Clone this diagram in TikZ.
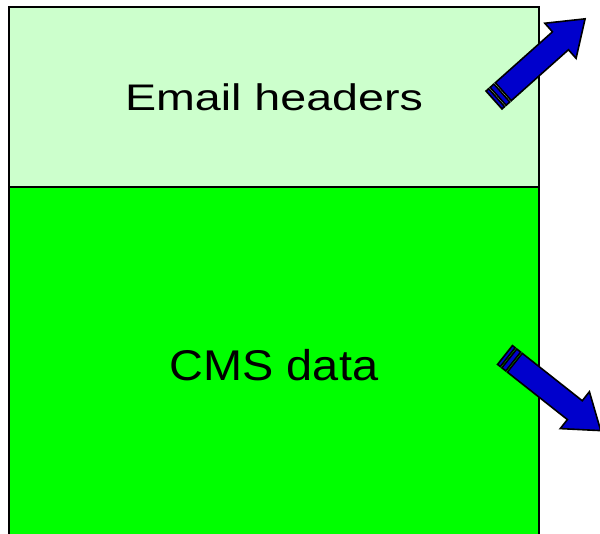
\documentclass[tikz,border=0pt]{standalone}
\usepackage{fontspec}
\setmainfont{Liberation Sans}
\usepackage{tikz}
\usetikzlibrary{calc}
\definecolor{paleGreen}{RGB}{204,255,204}
\definecolor{brightGreen}{RGB}{0,255,0}
\definecolor{arrowBlue}{RGB}{0,0,204}
\newcommand\stripedArrow[2]{
    \def\L{122}
    \def\w{12}
    \def\H{23.5}
    \def\hd{33}
    \begin{scope}[shift={(#1)}, rotate=#2]
        \draw[arr] (0,-\w) rectangle (3.5,\w);
        \draw[arr] (5.5,-\w) rectangle (10.5,\w);
        \draw[arr] (12.5,-\w) -- ({\L-\hd},-\w) -- ({\L-\hd},-\H) --
        (\L,0) -- ({\L-\hd},\H) -- ({\L-\hd},\w) -- (12.5,\w) -- cycle;
    \end{scope}
}

\begin{document}
\begin{tikzpicture}[
        x=1pt, y=-1pt,
        part/.style={draw=black, line width=2.5pt, minimum width=530pt,
            inner sep=0pt, outer sep=0pt}
        ,arr/.style={draw=black, line width=1.6pt, line join=miter, fill=arrowBlue}
    ]
    \useasboundingbox (0,0) rectangle (600,534);

    \node[part, fill=brightGreen, minimum height=356pt, anchor=north west,
        font=\fontsize{43}{48}\selectfont]
        (cms) at (9,187) {\scalebox{1.09}[1]{CMS data}};
    \node[part, fill=paleGreen, minimum height=180pt, anchor=north west,
        font=\fontsize{37}{42}\selectfont]
        (headers) at (9,7) {\scalebox{1.26}[1]{Email headers}};

    \stripedArrow{494,100}{41.7}
    \stripedArrow{505,355}{-38.3}
\end{tikzpicture}
\end{document}
